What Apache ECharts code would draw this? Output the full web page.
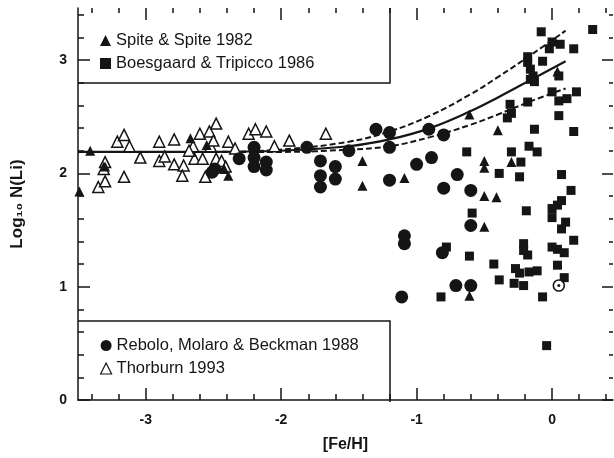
<!DOCTYPE html>
<html lang="en">

<head>
    <meta charset="UTF-8" />
    <title>Li abundance vs [Fe/H]</title>
    <script src="https://cdn.jsdelivr.net/npm/echarts@6.0.0/dist/echarts.min.js"></script>
</head>

<body style="margin:0; background:#fff;">
    <div id="main" style="width: 614px; height: 458px;"></div>

    <script>
        // tick positions
        const xMajor = [-3, -2, -1, 0];
        const xMinor = [-3.4, -3.2, -2.8, -2.6, -2.4, -2.2, -1.8, -1.6, -1.4, -1.2, -0.8, -0.6, -0.4, -0.2, 0.2, 0.4];
        const yMajor = [0, 1, 2, 3];
        const yMinor = [0.2, 0.4, 0.6, 0.8, 1.2, 1.4, 1.6, 1.8, 2.2, 2.4, 2.6, 2.8, 3.2, 3.4];

        // model curves
        const curveX = [-3.5, -3.0, -2.5, -2.0, -1.5, -1.2, -0.9, -0.6, -0.4, -0.15, 0.1];
        const modelMid = [2.19, 2.19, 2.19, 2.20, 2.24, 2.30, 2.40, 2.55, 2.67, 2.83, 2.99];
        const modelHigh = [2.19, 2.19, 2.19, 2.21, 2.28, 2.37, 2.51, 2.70, 2.85, 3.05, 3.26];
        const modelLow = [2.19, 2.19, 2.19, 2.19, 2.21, 2.24, 2.32, 2.43, 2.52, 2.64, 2.75];

        // observations [Fe/H, log N(Li)]
        const spite = [[-3.49, 1.84], [-3.41, 2.20], [-3.30, 2.06], [-2.67, 2.31], [-2.55, 2.25], [-2.42, 2.04],
            [-2.39, 1.98], [-1.40, 2.11], [-1.40, 1.89], [-1.09, 1.96], [-0.61, 2.52], [-0.40, 2.38],
            [-0.50, 2.11], [-0.50, 2.05], [-0.30, 2.10], [-0.50, 1.80], [-0.41, 1.79], [-0.50, 1.53],
            [-0.61, 0.92], [0.04, 2.90]];
        const boesgaard = [[-0.63, 2.19], [-0.59, 1.65], [-0.78, 1.35], [-0.23, 2.10], [-0.30, 2.19], [-0.39, 2.00],
            [-0.24, 1.97], [-0.17, 2.24], [-0.11, 2.19], [-0.13, 2.39], [0.05, 2.51], [0.16, 2.37],
            [-0.31, 2.61], [-0.30, 2.53], [-0.33, 2.49], [-0.18, 2.63], [0.00, 2.72], [0.11, 2.66],
            [0.18, 2.72], [-0.08, 3.25], [0.00, 3.16], [0.06, 3.14], [-0.02, 3.10], [0.16, 3.10],
            [-0.18, 3.03], [-0.18, 2.98], [-0.16, 2.92], [-0.14, 2.86], [-0.16, 2.83], [-0.07, 2.99],
            [0.05, 2.86], [-0.13, 2.81], [0.30, 3.27], [0.05, 2.64], [0.07, 1.99], [0.14, 1.85],
            [0.07, 1.76], [0.04, 1.72], [0.00, 1.69], [-0.19, 1.67], [0.00, 1.61], [0.10, 1.57],
            [0.07, 1.51], [0.16, 1.41], [-0.21, 1.38], [-0.21, 1.32], [-0.18, 1.28], [0.00, 1.35],
            [0.04, 1.33], [0.09, 1.30], [-0.61, 1.27], [-0.43, 1.20], [-0.27, 1.16], [-0.24, 1.12],
            [-0.17, 1.13], [-0.11, 1.14], [0.04, 1.19], [-0.39, 1.06], [-0.28, 1.03], [-0.21, 1.01],
            [-0.07, 0.91], [0.09, 1.08], [-0.04, 0.48], [-0.82, 0.91]];
        const rebolo = [[-2.51, 2.01], [-2.49, 2.04], [-2.31, 2.13], [-2.20, 2.23], [-2.20, 2.14], [-2.20, 2.06],
            [-2.11, 2.10], [-2.11, 2.03], [-1.81, 2.23], [-1.71, 2.11], [-1.71, 1.98], [-1.71, 1.88],
            [-1.60, 2.06], [-1.60, 1.95], [-1.50, 2.20], [-1.30, 2.39], [-1.20, 2.36], [-1.20, 2.23],
            [-0.91, 2.39], [-1.20, 1.94], [-1.00, 2.08], [-0.89, 2.14], [-0.70, 1.99], [-0.80, 1.87],
            [-0.60, 1.85], [-0.60, 1.54], [-1.09, 1.45], [-1.09, 1.38], [-1.11, 0.91], [-0.71, 1.01],
            [-0.60, 1.01], [-0.81, 1.30], [-0.80, 2.34]];
        const thorburn = [[-3.30, 2.10], [-3.31, 2.04], [-3.35, 1.88], [-3.30, 1.93], [-3.21, 2.28], [-3.16, 2.34],
            [-3.12, 2.24], [-3.16, 1.97], [-3.04, 2.14], [-2.90, 2.28], [-2.90, 2.11], [-2.86, 2.15],
            [-2.79, 2.30], [-2.79, 2.08], [-2.72, 2.07], [-2.73, 1.98], [-2.65, 2.24], [-2.60, 2.35],
            [-2.53, 2.37], [-2.64, 2.13], [-2.58, 2.13], [-2.56, 1.97], [-2.52, 2.24], [-2.48, 2.44],
            [-2.50, 2.29], [-2.48, 2.13], [-2.44, 2.11], [-2.39, 2.28], [-2.41, 2.06], [-2.24, 2.35],
            [-2.19, 2.39], [-2.11, 2.37], [-1.94, 2.29], [-1.67, 2.35], [-2.68, 2.20], [-2.34, 2.22],
            [-2.05, 2.24]];
        const sun = [[0.05, 1.01]];

        const ink = '#151515';
        const font = 'Liberation Sans';

        function tickAxis(pos, values, len, withLabel) {
            const vertical = pos === 'left' || pos === 'right';
            return {
                type: 'value', position: pos,
                min: vertical ? 0 : -3.5,
                max: vertical ? 3.46 : 0.45,
                axisLine: { show: false, onZero: false },
                splitLine: { show: false },
                axisTick: { show: true, inside: true, length: len, customValues: values, lineStyle: { color: ink, width: 1.5 } },
                axisLabel: withLabel
                    ? { show: true, customValues: values, color: ink, fontFamily: font, fontSize: 14, fontWeight: 'bold', margin: vertical ? 11 : 13 }
                    : { show: false }
            };
        }

        const xMain = tickAxis('bottom', xMajor, 12, true);
        xMain.axisLine = { show: true, onZero: false, lineStyle: { color: ink, width: 1.5 } };
        xMain.name = '[Fe/H]';
        xMain.nameLocation = 'middle';
        xMain.nameGap = 37;
        xMain.nameTextStyle = { color: ink, fontFamily: font, fontSize: 16, fontWeight: 'bold' };

        const yMain = tickAxis('left', yMajor, 12, true);
        yMain.axisLine = { show: true, onZero: false, lineStyle: { color: ink, width: 1.5 } };
        yMain.name = 'Log₁₀ N(Li)';
        yMain.nameLocation = 'middle';
        yMain.nameGap = 52;
        yMain.nameTextStyle = { color: ink, fontFamily: font, fontSize: 17, fontWeight: 'bold' };

        const legendText = { color: ink, fontFamily: font, fontSize: 16.5, lineHeight: 16 };

        const myChart = echarts.init(document.getElementById('main'));

        const options = {
            animation: false,
            backgroundColor: '#fff',
            grid: { left: 78, right: 1, top: 8, bottom: 56 },
            xAxis: [
                xMain,
                tickAxis('bottom', xMinor, 6, false),
                tickAxis('top', xMajor, 12, false),
                tickAxis('top', xMinor, 5, false)
            ],
            yAxis: [
                yMain,
                tickAxis('left', yMinor, 6, false),
                tickAxis('right', yMajor, 11, false),
                tickAxis('right', yMinor, 4, false)
            ],
            legend: [
                {
                    left: 100, top: 32, padding: 0, orient: 'vertical', itemGap: 6, itemWidth: 11, itemHeight: 11,
                    textStyle: legendText,
                    data: [
                        { name: 'Spite & Spite 1982', icon: 'triangle' },
                        { name: 'Boesgaard & Tripicco 1986', icon: 'rect', itemStyle: { color: ink } }
                    ]
                },
                {
                    left: 100, top: 337, padding: 0, orient: 'vertical', itemGap: 6, itemWidth: 11, itemHeight: 11,
                    textStyle: legendText,
                    data: [
                        { name: 'Rebolo, Molaro & Beckman 1988', icon: 'circle' },
                        { name: 'Thorburn 1993', icon: 'triangle', itemStyle: { color: '#fff', borderColor: ink, borderWidth: 1.2 } }
                    ]
                }
            ],
            graphic: [
                { type: 'polyline', shape: { points: [[390, 8], [390, 83], [78, 83]] }, style: { stroke: ink, lineWidth: 1.5, fill: null } },
                { type: 'polyline', shape: { points: [[78, 321], [390, 321], [390, 402]] }, style: { stroke: ink, lineWidth: 1.5, fill: null } }
            ],
            series: [
                {
                    type: 'line', data: curveX.map((x, i) => [x, modelHigh[i]]), smooth: 0.4,
                    showSymbol: false, lineStyle: { color: ink, width: 2, type: [6, 3] }, z: 1
                },
                {
                    type: 'line', data: curveX.map((x, i) => [x, modelLow[i]]), smooth: 0.4,
                    showSymbol: false, lineStyle: { color: ink, width: 2, type: [6, 3] }, z: 1
                },
                {
                    type: 'line', data: curveX.map((x, i) => [x, modelMid[i]]), smooth: 0.4,
                    showSymbol: false, lineStyle: { color: ink, width: 2.2 }, z: 1
                },
                {
                    name: 'Thorburn 1993', type: 'scatter', data: thorburn, symbol: 'triangle', symbolSize: 11,
                    itemStyle: { color: '#fff', borderColor: ink, borderWidth: 1.5, opacity: 1 }, z: 2
                },
                {
                    name: 'Spite & Spite 1982', type: 'scatter', data: spite, symbol: 'triangle', symbolSize: 10,
                    itemStyle: { color: ink, opacity: 1 }, z: 3
                },
                {
                    name: 'Boesgaard & Tripicco 1986', type: 'scatter', data: boesgaard, symbol: 'rect', symbolSize: 9,
                    itemStyle: { color: ink, opacity: 1 }, z: 3
                },
                {
                    name: 'Rebolo, Molaro & Beckman 1988', type: 'scatter', data: rebolo, symbol: 'circle', symbolSize: 13,
                    itemStyle: { color: ink, opacity: 1 }, z: 3
                },
                {
                    type: 'scatter', data: sun, symbol: 'circle', symbolSize: 11,
                    itemStyle: { color: '#fff', borderColor: ink, borderWidth: 1.6, opacity: 1 }, z: 4
                },
                {
                    type: 'scatter', data: sun, symbol: 'circle', symbolSize: 3,
                    itemStyle: { color: ink, opacity: 1 }, z: 5
                }
            ]
        };

        myChart.setOption(options);
    </script>
</body>

</html>
